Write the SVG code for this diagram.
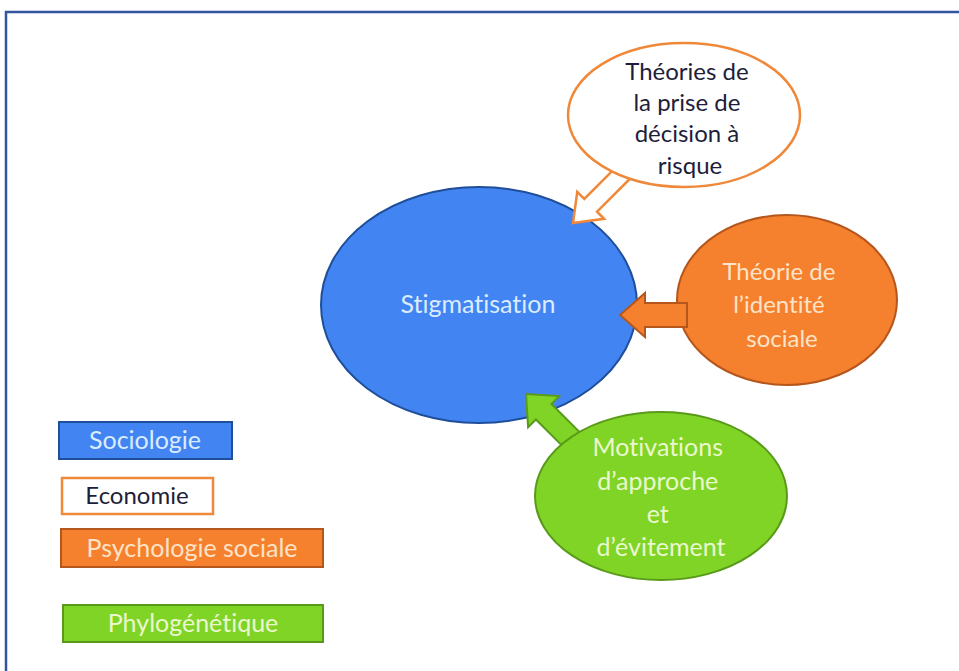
<svg xmlns="http://www.w3.org/2000/svg" width="959" height="671" viewBox="0 0 959 671">
  <style>
    text { font-family: Lato, "Open Sans", "Liberation Sans", sans-serif; text-anchor: middle; font-variant-ligatures: none; }
    .blue { fill: #4285f2; stroke: #1f4e9a; stroke-width: 2; }
    .orange { fill: #f5802e; stroke: #b5561c; stroke-width: 2; }
    .green { fill: #80d425; stroke: #5a9a1a; stroke-width: 2; }
    .white { fill: #ffffff; stroke: #f0883a; stroke-width: 2.5; }
    .t-blue { fill: #dcecff; }
    .t-orange { fill: #fde3c8; }
    .t-green { fill: #eaf8cf; }
    .t-dark { fill: #1e1e3a; }
  </style>
  <rect x="0" y="0" width="959" height="671" fill="#ffffff"/>
  <rect id="frame" x="6" y="12" width="965" height="675" fill="none" stroke="#3355a0" stroke-width="2.5"/>

  <g id="stigmatisation">
    <ellipse class="blue" cx="479" cy="305" rx="158" ry="118"/>
    <text class="t-blue" x="478" y="313" font-size="25">Stigmatisation</text>
  </g>

  <g id="connectors">
    <polygon class="white" points="0,0 -25,-19 -25,-9 -72,-9 -72,9 -25,9 -25,19" transform="translate(573,223) rotate(135)"/>
    <polygon class="green" points="0,0 -25,-22 -25,-11 -78,-11 -78,11 -25,11 -25,22" transform="translate(526,394) rotate(225)"/>
  </g>

  <g id="decision">
    <ellipse class="white" cx="684" cy="115" rx="116" ry="72"/>
    <text class="t-dark" font-size="24">
      <tspan x="690" y="80">Théories de</tspan>
      <tspan x="690" y="111">la prise de</tspan>
      <tspan x="690" y="142">décision à</tspan>
      <tspan x="690" y="174">risque</tspan>
    </text>
  </g>

  <g id="identite">
    <ellipse class="orange" cx="787" cy="300" rx="110" ry="85"/>
    <text class="t-orange" font-size="24">
      <tspan x="782" y="280">Théorie de</tspan>
      <tspan x="782" y="313">l’identité</tspan>
      <tspan x="782" y="347">sociale</tspan>
    </text>
  </g>

  <g id="arrow-orange">
    <polygon class="orange" points="0,0 -25,-22 -25,-12 -67,-12 -67,12 -25,12 -25,22" transform="translate(620,315) rotate(180)"/>
  </g>

  <g id="motivations">
    <ellipse class="green" cx="661" cy="496" rx="126" ry="84"/>
    <text class="t-green" font-size="25">
      <tspan x="661" y="456">Motivations</tspan>
      <tspan x="661" y="490">d’approche</tspan>
      <tspan x="661" y="523">et</tspan>
      <tspan x="661" y="556">d’évitement</tspan>
    </text>
  </g>

  <g id="legend-sociologie">
    <rect class="blue" x="59" y="422" width="173" height="37"/>
    <text class="t-blue" x="145" y="449" font-size="25">Sociologie</text>
  </g>
  <g id="legend-economie">
    <rect class="white" x="62" y="478" width="151" height="36"/>
    <text class="t-dark" x="137" y="504" font-size="24">Economie</text>
  </g>
  <g id="legend-psychologie">
    <rect class="orange" x="61" y="529" width="262" height="38"/>
    <text class="t-orange" x="192" y="557" font-size="25">Psychologie sociale</text>
  </g>
  <g id="legend-phylogenetique">
    <rect class="green" x="63" y="605" width="260" height="37"/>
    <text class="t-green" x="193" y="632" font-size="25">Phylogénétique</text>
  </g>
</svg>
